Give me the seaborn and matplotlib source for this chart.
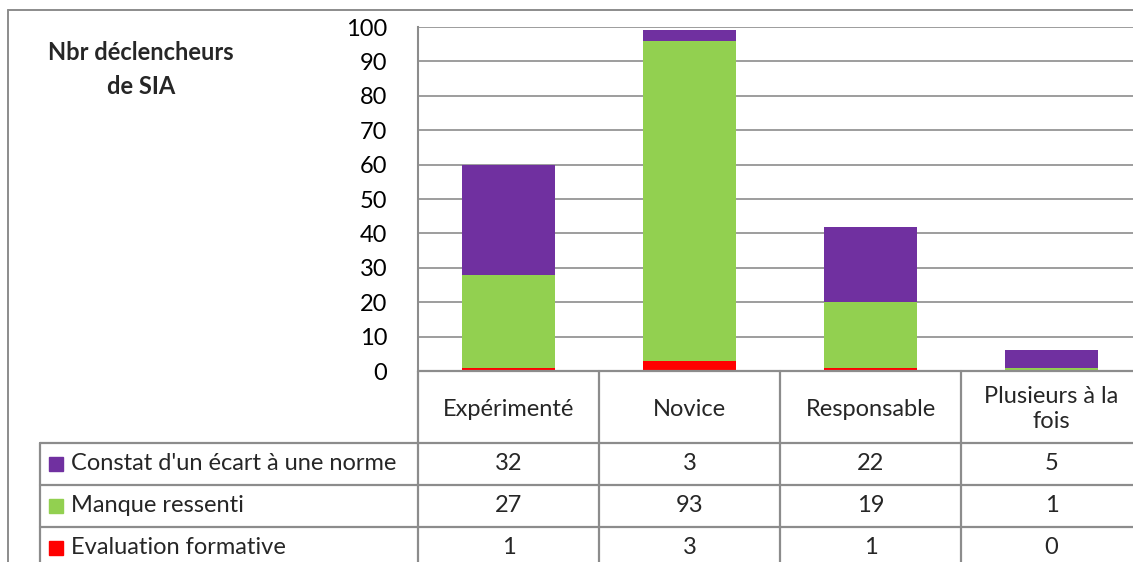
import matplotlib
matplotlib.use("Agg")
import matplotlib.pyplot as plt
import seaborn as sns
import numpy as np
from matplotlib.lines import Line2D
from matplotlib.patches import Rectangle

# ---- data ---- #
categories = ["Expérimenté", "Novice", "Responsable", "Plusieurs à la\nfois"]
series_names = ["Constat d'un écart à une norme", "Manque ressenti", "Evaluation formative"]
constat = [32, 3, 22, 5]
manque = [27, 93, 19, 1]
evaluation = [1, 3, 1, 0]
colors = ["#7030A0", "#92D050", "#FF0000"]
yticks = list(range(0, 101, 10))

sns.set_theme(style="white")
plt.rcParams["font.family"] = ["Lato", "DejaVu Sans"]

W, H = 1133, 562
FS = 17
fig = plt.figure(figsize=(W / 100, H / 100), dpi=100)
GRID = "#8c8c8c"


def fx(px):
    return px / W


def fy(py):
    return 1 - py / H


# plot area (right edge runs a bit past the picture, as in the source)
x0, x1, ytop, ybot = 418, 1142, 27, 371
ax = fig.add_axes([fx(x0), fy(ybot), fx(x1) - fx(x0), fy(ytop) - fy(ybot)])

ev = np.array(evaluation)
ma = np.array(manque)
co = np.array(constat)
labels_flat = [c.replace("\n", " ") for c in categories]
# stacked bars: draw cumulative totals back to front
for vals, col in [(ev + ma + co, colors[0]), (ev + ma, colors[1]), (ev, colors[2])]:
    sns.barplot(x=labels_flat, y=vals, color=col, width=0.515, saturation=1,
                linewidth=0, edgecolor="none", ax=ax, zorder=3)

ax.set_xlim(-0.5, len(categories) - 0.5)
ax.set_ylim(0, 100)
ax.set_yticks(yticks)
ax.yaxis.grid(True, color=GRID, linewidth=1.2, zorder=0)
ax.set_axisbelow(True)
ax.set_xticks([])
ax.set_xlabel("")
ax.set_ylabel("")
ax.tick_params(axis="y", labelsize=FS, pad=22, length=0, colors="black")
for s in ["top", "right", "bottom"]:
    ax.spines[s].set_visible(False)
ax.spines["left"].set_color(GRID)
ax.spines["left"].set_linewidth(1.5)

# title
fig.text(fx(141), fy(52), "Nbr déclencheurs", ha="center", va="center",
         fontsize=17, fontweight="bold")
fig.text(fx(141), fy(86), "de SIA", ha="center", va="center",
         fontsize=17, fontweight="bold")


def hline(y, xa, xb, lw=1.6):
    fig.add_artist(Line2D([fx(xa), fx(xb)], [fy(y), fy(y)], color=GRID,
                          linewidth=lw, transform=fig.transFigure))


def vline(x, ya, yb, lw=1.6):
    fig.add_artist(Line2D([fx(x), fx(x)], [fy(ya), fy(yb)], color=GRID,
                          linewidth=lw, transform=fig.transFigure))


# outer chart frame
hline(10, 8, W + 5, lw=1.4)
vline(8, 10, H + 5, lw=1.4)

# data table
col_w = (x1 - x0) / len(categories)
row_y = [443, 485, 527]
hline(ybot, x0, W + 5)
for y in row_y:
    hline(y, 40, W + 5)
vline(40, row_y[0], H + 5)
for i in range(len(categories)):
    vline(x0 + i * col_w, ybot, H + 5)

for i, cat in enumerate(categories):
    cx = x0 + (i + 0.5) * col_w
    fig.text(fx(cx), fy(409), cat, ha="center", va="center", fontsize=FS,
             linespacing=1.25)

series_vals = [constat, manque, evaluation]
for r, (name, vals, col) in enumerate(zip(series_names, series_vals, colors)):
    cy = row_y[r] + 21
    fig.add_artist(Rectangle((fx(49), fy(cy + 7)), fx(14), fy(0) - fy(14),
                             color=col, transform=fig.transFigure))
    fig.text(fx(71), fy(cy), name, ha="left", va="center", fontsize=FS)
    for i, v in enumerate(vals):
        cx = x0 + (i + 0.5) * col_w
        fig.text(fx(cx), fy(cy), str(v), ha="center", va="center", fontsize=FS)

fig.savefig("out.png", dpi=100)
